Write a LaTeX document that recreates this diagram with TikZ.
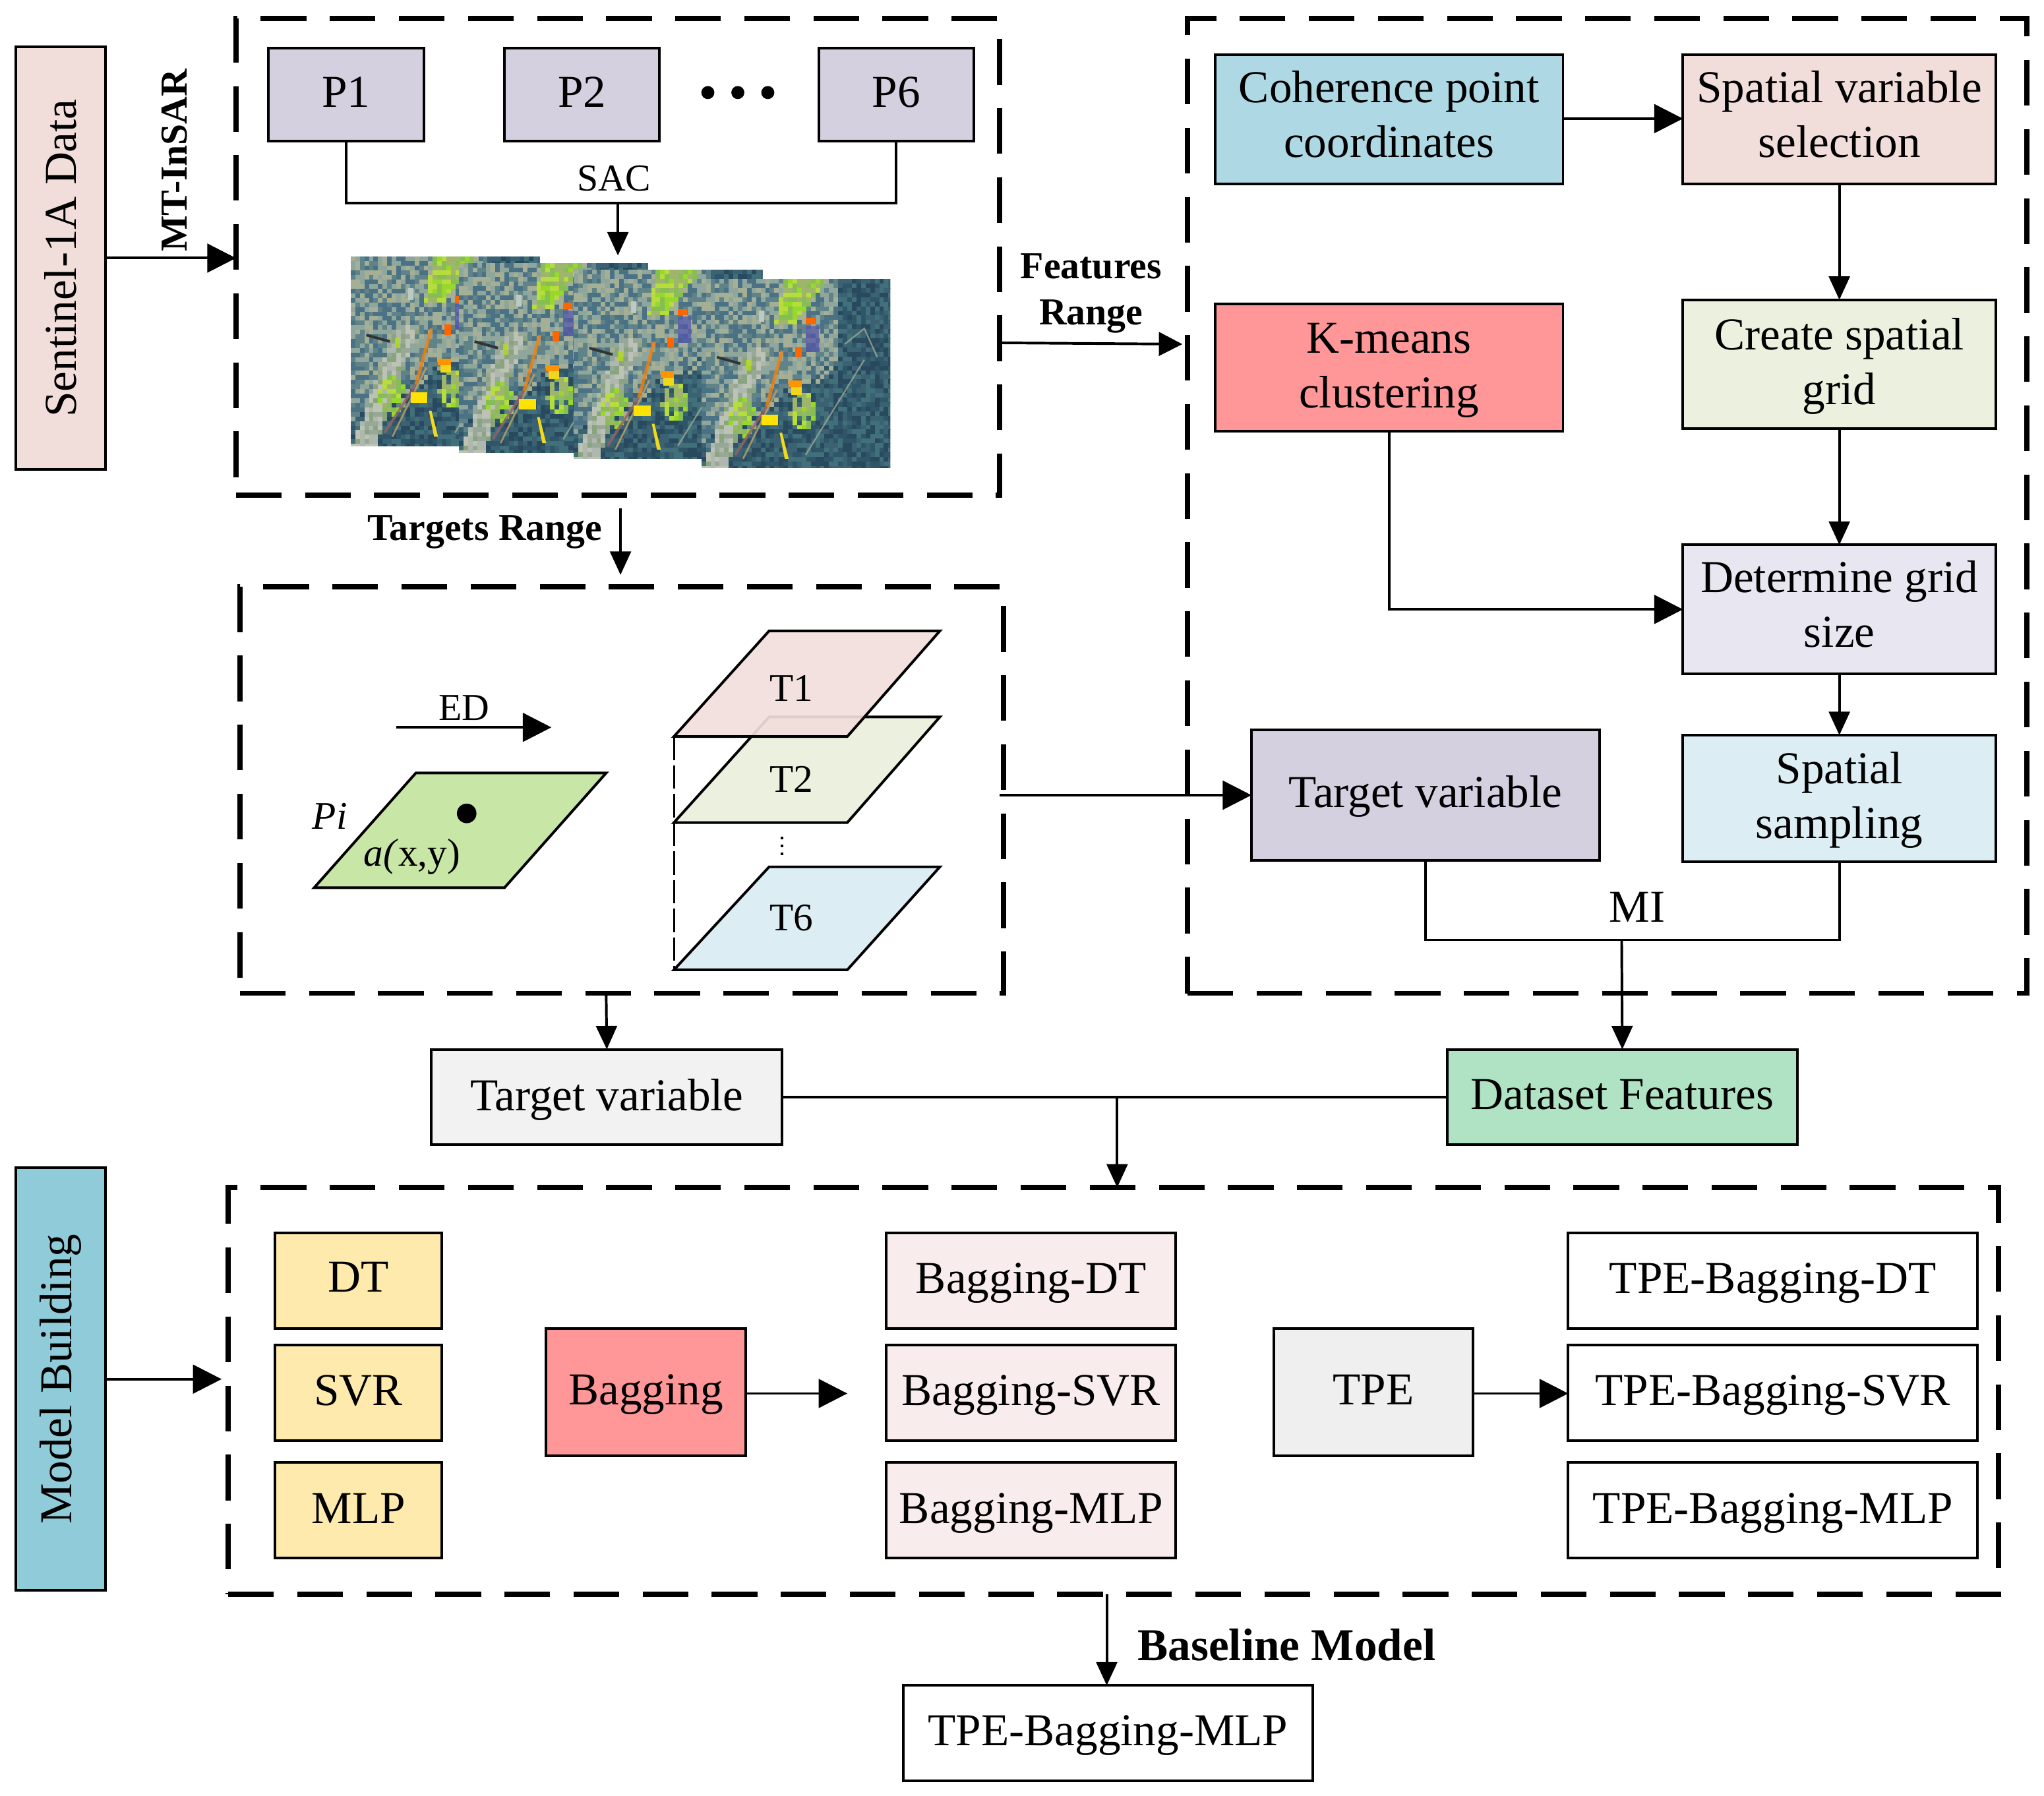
\documentclass[tikz,border=0pt]{standalone}
\usepackage{fontspec}
\setmainfont{Liberation Serif}
\usetikzlibrary{arrows.meta,calc}
\definecolor{cpink}{HTML}{F1DEDB}
\definecolor{cpurple}{HTML}{D4D0E0}
\definecolor{cblue}{HTML}{ADD8E4}
\definecolor{cgreen}{HTML}{EBF1DE}
\definecolor{csalmon}{HTML}{FF9798}
\definecolor{clav}{HTML}{E8E6F0}
\definecolor{csky}{HTML}{DCEEF4}
\definecolor{cgrey}{HTML}{F2F2F2}
\definecolor{cmint}{HTML}{AFE3C4}
\definecolor{cteal}{HTML}{8FCBD8}
\definecolor{cyellow}{HTML}{FFEAAE}
\definecolor{crose}{HTML}{F8EDEC}
\definecolor{ctpe}{HTML}{EFEFEF}
\definecolor{cplane}{HTML}{C8E6A6}
% dark forest
\definecolor{sat01}{HTML}{2F5568}
\definecolor{sat02}{HTML}{3A6272}
\definecolor{sat03}{HTML}{28495E}
\definecolor{sat04}{HTML}{41707A}
% settled mottled ground
\definecolor{sat11}{HTML}{8FA69C}
\definecolor{sat12}{HTML}{5F8388}
\definecolor{sat13}{HTML}{A4AF96}
\definecolor{sat14}{HTML}{4A7284}
% pale river band
\definecolor{sat21}{HTML}{AEB8AE}
\definecolor{sat22}{HTML}{98A898}
\definecolor{sat23}{HTML}{8AA47F}
\definecolor{sat24}{HTML}{BCC2B4}
% lime patches
\definecolor{sat31}{HTML}{97D82A}
\definecolor{sat32}{HTML}{B6DC3E}
\definecolor{sat33}{HTML}{86BE55}
\definecolor{sat34}{HTML}{9FB56C}
\tikzset{
  box/.style={draw=black,line width=1pt,inner sep=0pt,outer sep=0pt,align=center,
    font=\fontsize{17.5}{21}\selectfont},
  dashbox/.style={draw=black,line width=2pt,inner sep=0pt,outer sep=0pt,
    dash pattern=on 17.5pt off 9pt},
  lab/.style={inner sep=0pt,outer sep=0pt,align=center,font=\fontsize{14.6}{17.5}\selectfont},
  biglab/.style={inner sep=0pt,outer sep=0pt,align=center,font=\fontsize{17.5}{21}\selectfont},
  conn/.style={line width=1pt},
  arr/.style={line width=1pt,-{Triangle[length=11pt,width=11pt]}},
  sarr/.style={line width=1pt,-{Triangle[length=9pt,width=8pt]}},
  plane/.style={draw=black,line width=1pt,line join=miter},
}
\newcommand\dsc{\vphantom{g}}
% shift a box's text vertically, keeping its declared size
\newcommand\shf[2]{\raisebox{#1}[\height][\depth]{#2}}
\newcommand\twolines[3]{\shf{#1}{\begin{tabular}{@{}c@{}}#2\\#3\end{tabular}}}
% name, style, x0, y0, x1, y1, text
\newcommand\bx[7]{%
  \pgfmathsetmacro\bxw{(#5-#3)*0.5}%
  \pgfmathsetmacro\bxh{(#6-#4)*0.5}%
  \pgfmathsetmacro\bxx{(#3+#5)/2}%
  \pgfmathsetmacro\bxy{(#4+#6)/2}%
  \node[#2,minimum width=\bxw pt,minimum height=\bxh pt] (#1) at (\bxx,\bxy) {#7};%
}
\newcommand\satimg[2]{%
\begin{scope}[shift={(#1,#2)}]
  \clip (0,0) rectangle (145,145);
  \fill[sat01] (0,0) rectangle (145,145);
  \pgfmathsetseed{2718}
  \foreach \i in {0,...,41}{\foreach \j in {0,...,41}{%
    \pgfmathsetmacro\sx{\i*3.5}%
    \pgfmathsetmacro\sy{\j*3.5}%
    \pgfmathtruncatemacro\k{random(1,4)}%
    \pgfmathtruncatemacro\zone{%
      (\sy<32 && \sx>62-0.2*\sy && \sx<94-0.75*\sy) ? 3 :
      ((((\sx-76)/10)^2+((\sy-100)/14)^2<1 || ((\sx-30)/10)^2+((\sy-105)/16)^2<1) && rnd<0.85 ? 3 :
      ((\sy>50 && abs(\sx-8-(145-\sy)*0.36)<9) ? 2 :
      ((\sx<104 && \sy<118-0.6*\sx+rnd*18) ? 1 : 0)))}%
    \fill[sat\zone\k] (\sx,\sy) rectangle +(3.8,3.8);
  }}
  \draw[sat13,line width=.6pt,opacity=.7] (110,50) -- (125,38) -- (135,60);
  \draw[sat13,line width=.6pt,opacity=.7] (80,135) -- (125,62);
  \draw[orange!75!brown,line width=1.3pt,opacity=.8] (50,98) -- (62,55);
  \draw[brown!60!violet!60!gray,line width=1pt,opacity=.8] (26,135) -- (50,98);
  \draw[sat13!70!orange,line width=.7pt,opacity=.8] (32,138) -- (58,85);
  \fill[yellow!85!orange] (46,104) rectangle +(13,8);
  \fill[orange!85!yellow] (67,78) rectangle +(10,5);
  \fill[yellow!80!orange!90!gray] (69,83) rectangle +(8,6);
  \fill[yellow!75!brown] (60,118) -- (62,118) -- (67,138) -- (64,138) -- cycle;
  \fill[orange!80!red] (80,30) rectangle +(7,5);
  \fill[orange!80!red] (72,52) rectangle +(5,8);
  \fill[blue!35!gray,opacity=.7] (80,36) rectangle +(10,20);
  \fill[sat11!60!white] (44,24) rectangle +(4,9);
  \draw[black!80,line width=1pt] (12,60) -- (30,65);
  \fill[yellow!70!green,opacity=.8] (34,62) rectangle +(4,8);
\end{scope}}
\begin{document}
\begin{tikzpicture}[x=0.5pt,y=-0.5pt]
\useasboundingbox (0,0) rectangle (1568,1377.8);

% side boxes
\bx{sent}{box,fill=cpink}{12}{36}{81}{360}{\rotatebox{90}{Sentinel-1A Data}}
\bx{mb}{box,fill=cteal}{12}{896}{81}{1220}{\rotatebox{90}{Model Building}}

% dashed frames
\bx{d1}{dashbox}{181}{14}{767}{380}{}
\bx{d2}{dashbox}{911}{14}{1555}{762}{}
\bx{d3}{dashbox}{184}{450}{770}{762}{}
\bx{d4}{dashbox}{175}{911}{1533}{1223}{}

% frame 1
\bx{p1}{box,fill=cpurple}{206}{37}{325}{108}{\shf{-1pt}{P1\dsc}}
\bx{p2}{box,fill=cpurple}{387}{37}{506}{108}{\shf{-1pt}{P2\dsc}}
\bx{p6}{box,fill=cpurple}{628}{37}{747}{108}{\shf{-1pt}{P6\dsc}}
\fill (543,71) circle[radius=5];
\fill (566,71) circle[radius=5];
\fill (589,71) circle[radius=5];
\coordinate (sacm) at (474,156);
\coordinate (sacb) at (474,196);
\draw[conn] (p1.south) |- (sacm) -| (p6.south);
\draw[sarr] (sacm) -- (sacb);
\node[lab] (sac) at (471,137) {SAC};
\satimg{269}{197}
\satimg{352}{202}
\satimg{440}{207}
\satimg{538}{214}

% frame 2
\bx{coh}{box,fill=cblue}{932}{42}{1199}{141}{\twolines{0.15pt}{Coherence point}{coordinates}}
\bx{sel}{box,fill=cpink}{1291}{42}{1531}{141}{\twolines{0.15pt}{Spatial variable}{selection}}
\bx{grid}{box,fill=cgreen}{1291}{230}{1531}{329}{\twolines{-0.7pt}{Create spatial}{grid}}
\bx{km}{box,fill=csalmon}{932}{233}{1199}{331}{\twolines{-0.7pt}{K-means}{clustering}}
\bx{size}{box,fill=clav}{1291}{418}{1531}{517}{\twolines{0.35pt}{Determine grid}{size}}
\bx{samp}{box,fill=csky}{1291}{564}{1531}{661}{\twolines{-0.5pt}{Spatial}{sampling}}
\bx{tv}{box,fill=cpurple}{960}{560}{1227}{660}{\shf{-0.5pt}{Target variable}}
\draw[arr] (coh.east |- 0,91) -- (sel.west |- 0,91);
\draw[sarr] (sel) -- (grid);
\draw[sarr] (grid) -- (size);
\draw[sarr] (size) -- (samp);
\draw[arr] (km.south) |- (size.west);
\coordinate (mij) at (1244,721);
\draw[conn] (tv.south) |- (mij) -| (samp.south);
\node[biglab] (mi) at (1256,696) {MI};

% frame 3
\path[plane,fill=cplane] (319,593) -- (465,593) -- (387,681) -- (241,681) -- cycle;
\fill (358,624) circle[radius=7.5];
\node[lab,font=\fontsize{15}{18}\selectfont\itshape] (pi) at (253,626) {Pi};
\node[lab,font=\fontsize{15}{18}\selectfont] (axy) at (316,657) {\textit{a(}x,y)};
\coordinate (edl) at (304,558);
\coordinate (edr) at (423,558);
\draw[arr] (edl) -- (edr);
\node[lab] (ed) at (356,543) {ED};
\coordinate (tt) at (517,565);
\coordinate (tb) at (517,744);
\draw[conn,line width=0.8pt,dash pattern=on 9pt off 2pt] (tt) -- (tb);
\path[plane,fill=cgreen] (590,550) -- (721,550) -- (650,631) -- (517,631) -- cycle;
\path[plane,fill=csky] (590,665) -- (721,665) -- (650,744) -- (517,744) -- cycle;
\path[plane,fill=cpink,fill opacity=0.92] (590,484) -- (721,484) -- (650,565) -- (517,565) -- cycle;
\draw[line width=1pt,dotted] (600,642) -- (600,658);
\node[lab,font=\fontsize{15}{18}\selectfont] (t1) at (607,528) {T1};
\node[lab,font=\fontsize{15}{18}\selectfont] (t2) at (607,598) {T2};
\node[lab,font=\fontsize{15}{18}\selectfont] (t6) at (607,704) {T6};

% inter-frame connectors
\draw[arr] (sent.east) -- (d1.west |- sent.east);
\node[lab,rotate=90,font=\fontsize{14.6}{17}\selectfont\bfseries] (mt) at (134,123) {MT-InSAR};
\coordinate (fr1) at (767,263);
\coordinate (fr2) at (907,264);
\draw[arr,-{Triangle[length=9pt,width=9pt]}] (fr1) -- (fr2);
\node[lab,font=\fontsize{14.6}{17.6}\selectfont\bfseries] (fr) at (837,225) {Features\\Range};
\coordinate (tr1) at (476,390);
\coordinate (tr2) at (476,441);
\draw[sarr] (tr1) -- (tr2);
\node[lab,font=\fontsize{14.6}{17.6}\selectfont\bfseries] (trl) at (372,408) {Targets Range};
\coordinate (d3e) at (767,610);
\draw[arr] (d3e) -- (tv.west);

% dataset row
\bx{tv2}{box,fill=cgrey}{331}{805}{600}{878}{\shf{-1pt}{Target variable}}
\bx{df}{box,fill=cmint}{1110}{805}{1379}{878}{\shf{-1pt}{Dataset Features\dsc}}
\coordinate (d3b) at (465,762);
\draw[sarr] (d3b) -- (tv2.north);
\draw[sarr] (mij) -- (df.north);
\draw[conn] (tv2) -- (df);
\coordinate (rowj) at (857,841);
\draw[sarr] (rowj) -- (rowj |- d4.north);

% frame 4
\coordinate (mbe) at (170,1058);
\draw[arr] (mb.east) -- (mbe);
\bx{dt}{box,fill=cyellow}{211}{946}{339}{1019}{\shf{-0.5pt}{DT\dsc}}
\bx{svr}{box,fill=cyellow}{211}{1032}{339}{1105}{\shf{-1pt}{SVR\dsc}}
\bx{mlp}{box,fill=cyellow}{211}{1122}{339}{1195}{\shf{-1.2pt}{MLP\dsc}}
\bx{bag}{box,fill=csalmon}{419}{1019}{572}{1117}{\shf{-1pt}{Bagging}}
\bx{bdt}{box,fill=crose}{680}{946}{902}{1019}{\shf{-1pt}{Bagging-DT}}
\bx{bsvr}{box,fill=crose}{680}{1032}{902}{1105}{\shf{-1pt}{Bagging-SVR}}
\bx{bmlp}{box,fill=crose}{680}{1122}{902}{1195}{\shf{-1.2pt}{Bagging-MLP}}
\bx{tpe}{box,fill=ctpe}{977}{1019}{1130}{1117}{\shf{-1pt}{TPE\dsc}}
\bx{tdt}{box,fill=white}{1203}{946}{1517}{1019}{\shf{-1pt}{TPE-Bagging-DT}}
\bx{tsvr}{box,fill=white}{1203}{1032}{1517}{1105}{\shf{-1pt}{TPE-Bagging-SVR}}
\bx{tmlp}{box,fill=white}{1203}{1122}{1517}{1195}{\shf{-1.2pt}{TPE-Bagging-MLP}}
\coordinate (bage) at (650,1069);
\draw[arr] (bag.east |- bage) -- (bage);
\draw[arr] (tpe.east |- 0,1069) -- (tsvr.west |- 0,1069);

% final
\bx{fin}{box,fill=white}{693}{1293}{1007}{1366}{\shf{-1pt}{TPE-Bagging-MLP}}
\coordinate (d4b) at (849,1223);
\draw[sarr] (d4b) -- (d4b |- fin.north);
\node[biglab,font=\fontsize{17.5}{21}\selectfont\bfseries] (base) at (987,1262) {Baseline Model};
\end{tikzpicture}
\end{document}
